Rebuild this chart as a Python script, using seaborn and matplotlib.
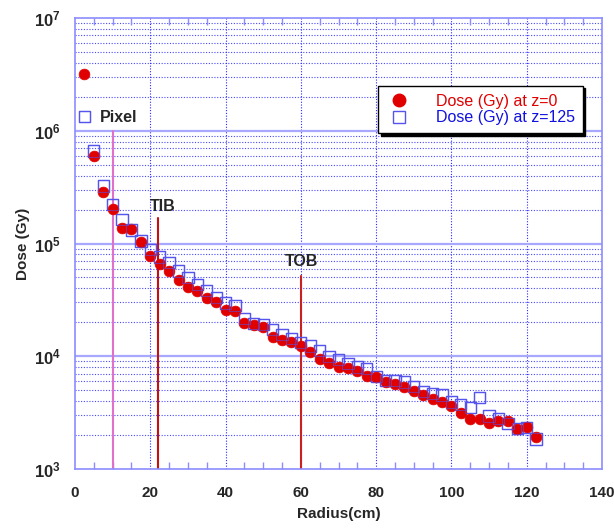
import numpy as np
import pandas as pd
import matplotlib
matplotlib.use("Agg")
import matplotlib.pyplot as plt
import seaborn as sns
from matplotlib.lines import Line2D
from matplotlib.ticker import FixedLocator, NullFormatter

radius = [2.5, 5, 7.5, 10, 12.5, 15, 17.5, 20, 22.5, 25, 27.5, 30, 32.5, 35, 37.5,
          40, 42.5, 45, 47.5, 50, 52.5, 55, 57.5, 60, 62.5, 65, 67.5, 70, 72.5, 75,
          77.5, 80, 82.5, 85, 87.5, 90, 92.5, 95, 97.5, 100, 102.5, 105, 107.5, 110,
          112.5, 115, 117.5, 120, 122.5]

dose_z0 = [3.18e6, 6.0e5, 2.88e5, 2.02e5, 1.38e5, 1.34e5, 1.03e5, 7.75e4, 6.54e4,
           5.73e4, 4.74e4, 4.13e4, 3.81e4, 3.30e4, 3.02e4, 2.56e4, 2.50e4, 1.99e4,
           1.90e4, 1.82e4, 1.47e4, 1.38e4, 1.33e4, 1.24e4, 1.09e4, 9.55e3, 8.73e3,
           8.0e3, 7.8e3, 7.42e3, 6.65e3, 6.49e3, 5.97e3, 5.62e3, 5.39e3, 4.93e3,
           4.54e3, 4.16e3, 3.89e3, 3.60e3, 3.14e3, 2.78e3, 2.78e3, 2.55e3, 2.65e3,
           2.67e3, 2.27e3, 2.38e3, 1.91e3]

dose_z125 = [1.34e6, 6.6e5, 3.24e5, 2.21e5, 1.64e5, 1.32e5, 1.05e5, 8.8e4, 7.6e4,
             6.75e4, 5.7e4, 5.0e4, 4.35e4, 3.84e4, 3.30e4, 2.96e4, 2.83e4, 2.17e4,
             1.95e4, 1.92e4, 1.73e4, 1.57e4, 1.44e4, 1.33e4, 1.23e4, 1.12e4, 1.0e4,
             9.4e3, 8.6e3, 8.05e3, 7.73e3, 6.65e3, 6.13e3, 6.05e3, 5.9e3, 5.4e3,
             4.9e3, 4.68e3, 4.52e3, 3.93e3, 3.73e3, 3.51e3, 4.31e3, 2.96e3, 2.81e3,
             2.53e3, 2.29e3, 2.35e3, 1.85e3]

series_labels = ["Dose (Gy) at z=0", "Dose (Gy) at z=125"]
detector_names = ["Pixel", "TIB", "TOB"]
detector_r = [10, 22, 60]
detector_top = [1.0e6, 1.68e5, 5.1e4]
x_ticks = [0, 20, 40, 60, 80, 100, 120, 140]
y_ticks = [1e3, 1e4, 1e5, 1e6, 1e7]

sns.set_theme(style="white")
plt.rcParams['font.family'] = ['Liberation Sans', 'DejaVu Sans']
plt.rcParams['mathtext.fontset'] = 'custom'
plt.rcParams['mathtext.rm'] = 'Liberation Sans'
plt.rcParams['mathtext.bf'] = 'Liberation Sans:bold'

fig = plt.figure(figsize=(6.14, 5.28), dpi=100)
ax = fig.add_axes([75/614, 1-469/528, (602-75)/614, (469-18)/528])

RED = '#e00000'
BLUE = '#5555ee'
GRID = '#2a2aff'
FRAME = '#8c8cff'

ax.set_yscale('log')
ax.set_xlim(0, 140)
ax.set_ylim(1e3, 1e7)

# grid
ax.set_axisbelow(True)
ax.xaxis.set_major_locator(FixedLocator(x_ticks))
ax.xaxis.set_minor_locator(FixedLocator(np.arange(0, 141, 5)))
ax.yaxis.set_major_locator(FixedLocator(y_ticks))
minor_y = [m * 10**e for e in range(3, 7) for m in range(2, 10)]
ax.yaxis.set_minor_locator(FixedLocator(minor_y))
ax.yaxis.set_minor_formatter(NullFormatter())
ax.grid(False)
for xv in x_ticks[1:-1]:
    ax.axvline(xv, color=GRID, lw=0.8, ls=(0, (1, 1.5)), zorder=0)
for yv in minor_y:
    ax.axhline(yv, color=GRID, lw=0.8, ls=(0, (1, 1.5)), zorder=0, alpha=0.85)
for yv in y_ticks[1:-1]:
    ax.axhline(yv, color='#a8a8ff', lw=1.6, zorder=0)

df0 = pd.DataFrame({'r': radius, 'dose': dose_z0})
df1 = pd.DataFrame({'r': radius, 'dose': dose_z125})
sns.scatterplot(data=df1, x='r', y='dose', ax=ax, marker='s', s=66,
                facecolor='none', edgecolor=BLUE, linewidth=1.0, zorder=3, legend=False)
sns.scatterplot(data=df0, x='r', y='dose', ax=ax, marker='o', s=60,
                color=RED, edgecolor=RED, linewidth=0.5, zorder=4, legend=False)
# squares faintly over circles as in reference
sns.scatterplot(data=df1, x='r', y='dose', ax=ax, marker='s', s=66,
                facecolor='none', edgecolor=BLUE, linewidth=0.8, alpha=0.55, zorder=5, legend=False)

# detector lines
line_colors = ['#e070c8', '#c41010', '#cc2020']
for r, top, c in zip(detector_r, detector_top, line_colors):
    ax.plot([r, r], [1e3, top], color=c, lw=1.5, zorder=2)
ax.text(6.6, 1.32e6, detector_names[0], fontsize=11.5, fontweight='bold', va='center', ha='left')
ax.text(20.0, 2.15e5, detector_names[1], fontsize=11.5, fontweight='bold', va='center', ha='left')
ax.text(55.8, 6.9e4, detector_names[2], fontsize=11.5, fontweight='bold', va='center', ha='left')

# ticks
ax.set_xticklabels([str(v) for v in x_ticks], fontweight='bold', fontsize=11)
ax.set_yticklabels([r'$\mathbf{10^{%d}}$' % int(np.log10(v)) for v in y_ticks], fontsize=12)
ax.tick_params(axis='both', which='both', direction='in', color=FRAME,
               top=True, bottom=True, left=True, right=False)
ax.tick_params(axis='x', which='major', length=0, pad=12)
ax.tick_params(axis='x', which='minor', length=5)
ax.tick_params(axis='y', which='major', length=0, pad=10)
ax.tick_params(axis='y', which='minor', length=0)
for sp in ax.spines.values():
    sp.set_color(FRAME)
    sp.set_linewidth(1.2)

ax.set_xlabel('Radius(cm)', fontsize=11, fontweight='bold', labelpad=5)
ax.set_ylabel('Dose (Gy)', fontsize=11, fontweight='bold', labelpad=3)

# legend
handles = [Line2D([], [], marker='o', ls='none', color=RED, markersize=9),
           Line2D([], [], marker='s', ls='none', markerfacecolor='none',
                  markeredgecolor=BLUE, markersize=8)]
leg = ax.legend(handles, series_labels, loc='upper left', bbox_to_anchor=(0.575, 0.85),
                frameon=True, fancybox=False, shadow={'color': 'black', 'alpha': 1.0},
                edgecolor='black', fontsize=11.5, handletextpad=1.5, borderpad=0.5,
                labelspacing=0.1, handlelength=1.6, borderaxespad=0)
leg.get_frame().set_linewidth(1.0)
for t, c in zip(leg.get_texts(), [RED, '#1010e0']):
    t.set_color(c)

fig.savefig('out.png', dpi=100)
